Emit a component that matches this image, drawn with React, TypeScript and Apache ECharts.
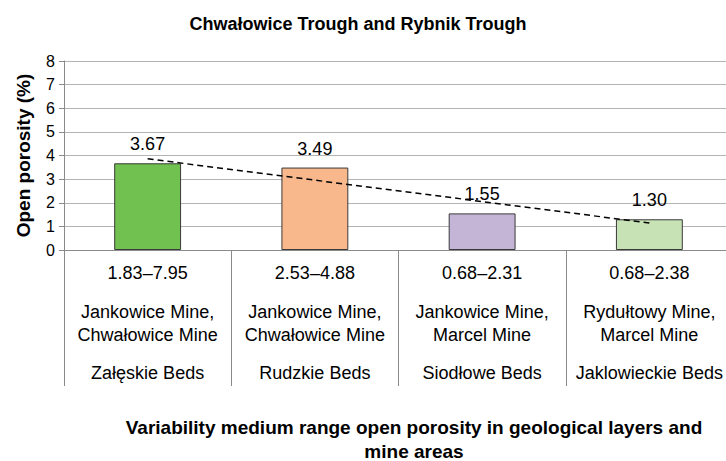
import React, { useEffect, useRef } from "react";
import * as echarts from "echarts";

const ranges = ["1.83–7.95", "2.53–4.88", "0.68–2.31", "0.68–2.38"];
const mines = [
  ["Jankowice Mine,", "Chwałowice Mine"],
  ["Jankowice Mine,", "Chwałowice Mine"],
  ["Jankowice Mine,", "Marcel Mine"],
  ["Rydułtowy Mine,", "Marcel Mine"],
];
const beds = ["Załęskie Beds", "Rudzkie Beds", "Siodłowe Beds", "Jaklowieckie Beds"];
const values = [3.67, 3.49, 1.55, 1.3];
const colors = ["#70c150", "#f9b88b", "#c4b5d6", "#c7e2b5"];

function linearTrend(ys: number[]): number[] {
  const n = ys.length;
  const xs = ys.map((_, i) => i + 1);
  const mx = xs.reduce((a, b) => a + b, 0) / n;
  const my = ys.reduce((a, b) => a + b, 0) / n;
  let num = 0;
  let den = 0;
  for (let i = 0; i < n; i++) {
    num += (xs[i] - mx) * (ys[i] - my);
    den += (xs[i] - mx) * (xs[i] - mx);
  }
  const slope = num / den;
  return xs.map((x) => my + slope * (x - mx));
}

const categories = ranges.map(
  (r, i) =>
    `{r|${r}}\n{s| }\n{m|${mines[i][0]}}\n{m|${mines[i][1]}}\n{t| }\n{b|${beds[i]}}`
);

export default function App() {
  const ref = useRef<HTMLDivElement>(null);
  useEffect(() => {
    document.body.style.margin = "0";
    if (!ref.current) return;
    const chart = echarts.init(ref.current, undefined, { renderer: "svg" });
    const font = "'Liberation Sans', Arial, sans-serif";
    chart.setOption({
      animation: false,
      textStyle: { fontFamily: font },
      title: {
        text: "Chwałowice Trough and Rybnik Trough",
        left: 353,
        textAlign: "center",
        top: 10,
        textStyle: { fontSize: 18, fontWeight: "bold", color: "#000", fontFamily: font },
      },
      graphic: [
        {
          type: "text",
          x: 414,
          y: 439,
          style: {
            text: "Variability medium range open porosity in geological layers and\nmine areas",
            font: `bold 19px ${font}`,
            fill: "#000",
            align: "center",
            verticalAlign: "middle",
            lineHeight: 24,
          },
        },
      ],
      grid: { left: 64, right: 7, top: 61, height: 189, containLabel: false },
      xAxis: {
        type: "category",
        data: categories,
        boundaryGap: true,
        axisLine: { show: true, lineStyle: { color: "#8a8a8a", width: 1 } },
        axisTick: {
          show: true,
          interval: 0,
          length: 136,
          lineStyle: { color: "#8a8a8a", width: 1 },
        },
        axisLabel: {
          interval: 0,
          margin: 11,
          color: "#000",
          fontSize: 18,
          fontFamily: font,
          rich: {
            r: { fontSize: 18, lineHeight: 23, fontFamily: font, color: "#000" },
            s: { fontSize: 10, lineHeight: 16 },
            m: { fontSize: 18, lineHeight: 23, fontFamily: font, color: "#000" },
            t: { fontSize: 10, lineHeight: 15 },
            b: { fontSize: 18, lineHeight: 23, fontFamily: font, color: "#000" },
          },
        },
        splitLine: { show: false },
      },
      yAxis: {
        type: "value",
        min: 0,
        max: 8,
        interval: 1,
        name: "Open porosity (%)",
        nameLocation: "middle",
        nameGap: 31,
        nameTextStyle: { fontSize: 19, fontWeight: "bold", color: "#000", fontFamily: font },
        axisLine: { show: true, lineStyle: { color: "#8a8a8a", width: 1 } },
        axisTick: { show: true, length: 5, lineStyle: { color: "#8a8a8a" } },
        axisLabel: { fontSize: 16, color: "#000", margin: 9, fontFamily: font },
        splitLine: { show: true, lineStyle: { color: "#b4b4b4", width: 1 } },
      },
      series: [
        {
          type: "bar",
          data: values.map((v, i) => ({ value: v, itemStyle: { color: colors[i] } })),
          barWidth: "40%",
          itemStyle: { borderColor: "#3a3a3a", borderWidth: 1 },
          label: {
            show: true,
            position: "top",
            distance: 10,
            fontSize: 18,
            color: "#000",
            fontFamily: font,
            formatter: (p: any) => Number(p.value).toFixed(2),
          },
          z: 2,
        },
        {
          type: "line",
          data: linearTrend(values),
          symbol: "none",
          lineStyle: { color: "#000", width: 1.5, type: [6, 4] },
          z: 3,
          silent: true,
        },
      ],
    });
    return () => chart.dispose();
  }, []);
  return (
    <div style={{ width: 726, height: 461, overflow: "hidden", position: "relative" }}>
      <div ref={ref} style={{ width: 740, height: 461 }} />
    </div>
  );
}
